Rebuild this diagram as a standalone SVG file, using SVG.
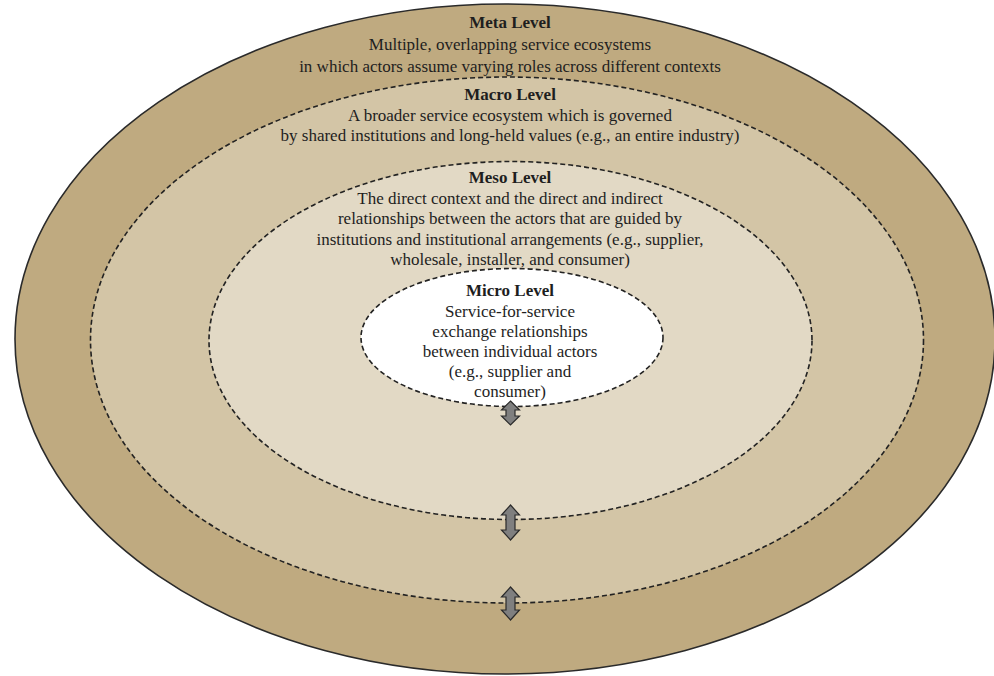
<svg xmlns="http://www.w3.org/2000/svg" width="994" height="676" viewBox="0 0 994 676">
  <style>
    .lvl { stroke: #222; stroke-width: 1.6; stroke-dasharray: 5 3; }
    .outer { fill: #BFAA80; stroke: #2a2a2a; stroke-width: 1.6; }
    text { font-family: "Liberation Serif", "Times New Roman", serif; font-size: 17px; fill: #1e1e1e; text-anchor: middle; }
    .title { font-weight: bold; }
    .arrow { fill: #7f7f7f; stroke: #2a2a2a; stroke-width: 1.2; stroke-linejoin: miter; }
  </style>
  <rect width="994" height="676" fill="#ffffff"/>

  <!-- Meta level: outermost ring -->
  <g id="meta">
    <ellipse class="outer" cx="505" cy="339" rx="490" ry="335"/>
    <text x="510" y="28" class="title">Meta Level</text>
    <text x="510" y="50">Multiple, overlapping service ecosystems</text>
    <text x="510" y="72">in which actors assume varying roles across different contexts</text>
  </g>

  <!-- Macro level -->
  <g id="macro">
    <ellipse class="lvl" fill="#D3C5A6" cx="507" cy="340" rx="416.5" ry="263"/>
    <text x="510" y="100" class="title">Macro Level</text>
    <text x="510" y="121">A broader service ecosystem which is governed</text>
    <text x="510" y="141">by shared institutions and long-held values (e.g., an entire industry)</text>
  </g>

  <!-- Meso level -->
  <g id="meso">
    <ellipse class="lvl" fill="#E2D9C5" cx="510.5" cy="340.5" rx="301.5" ry="179"/>
    <text x="510" y="183" class="title">Meso Level</text>
    <text x="510" y="204">The direct context and the direct and indirect</text>
    <text x="510" y="224">relationships between the actors that are guided by</text>
    <text x="510" y="245">institutions and institutional arrangements (e.g., supplier,</text>
    <text x="510" y="265">wholesale, installer, and consumer)</text>
  </g>

  <!-- Micro level -->
  <g id="micro">
    <ellipse class="lvl" fill="#ffffff" cx="512" cy="337.5" rx="151" ry="69"/>
    <text x="510" y="296" class="title">Micro Level</text>
    <text x="510" y="317">Service-for-service</text>
    <text x="510" y="337">exchange relationships</text>
    <text x="510" y="357">between individual actors</text>
    <text x="510" y="377">(e.g., supplier and</text>
    <text x="510" y="397">consumer)</text>
  </g>

  <!-- Two-way links between adjacent levels -->
  <g id="connectors">
    <path class="arrow" d="M510.5,401 L519.5,410 L515,410 L515,416 L519.5,416 L510.5,425 L501.5,416 L506,416 L506,410 L501.5,410 Z"/>
    <path class="arrow" d="M510.5,505 L519.5,515 L515,515 L515,530 L519.5,530 L510.5,540 L501.5,530 L506,530 L506,515 L501.5,515 Z"/>
    <path class="arrow" d="M510.5,587 L519.5,597 L515,597 L515,610 L519.5,610 L510.5,620 L501.5,610 L506,610 L506,597 L501.5,597 Z"/>
  </g>
</svg>
